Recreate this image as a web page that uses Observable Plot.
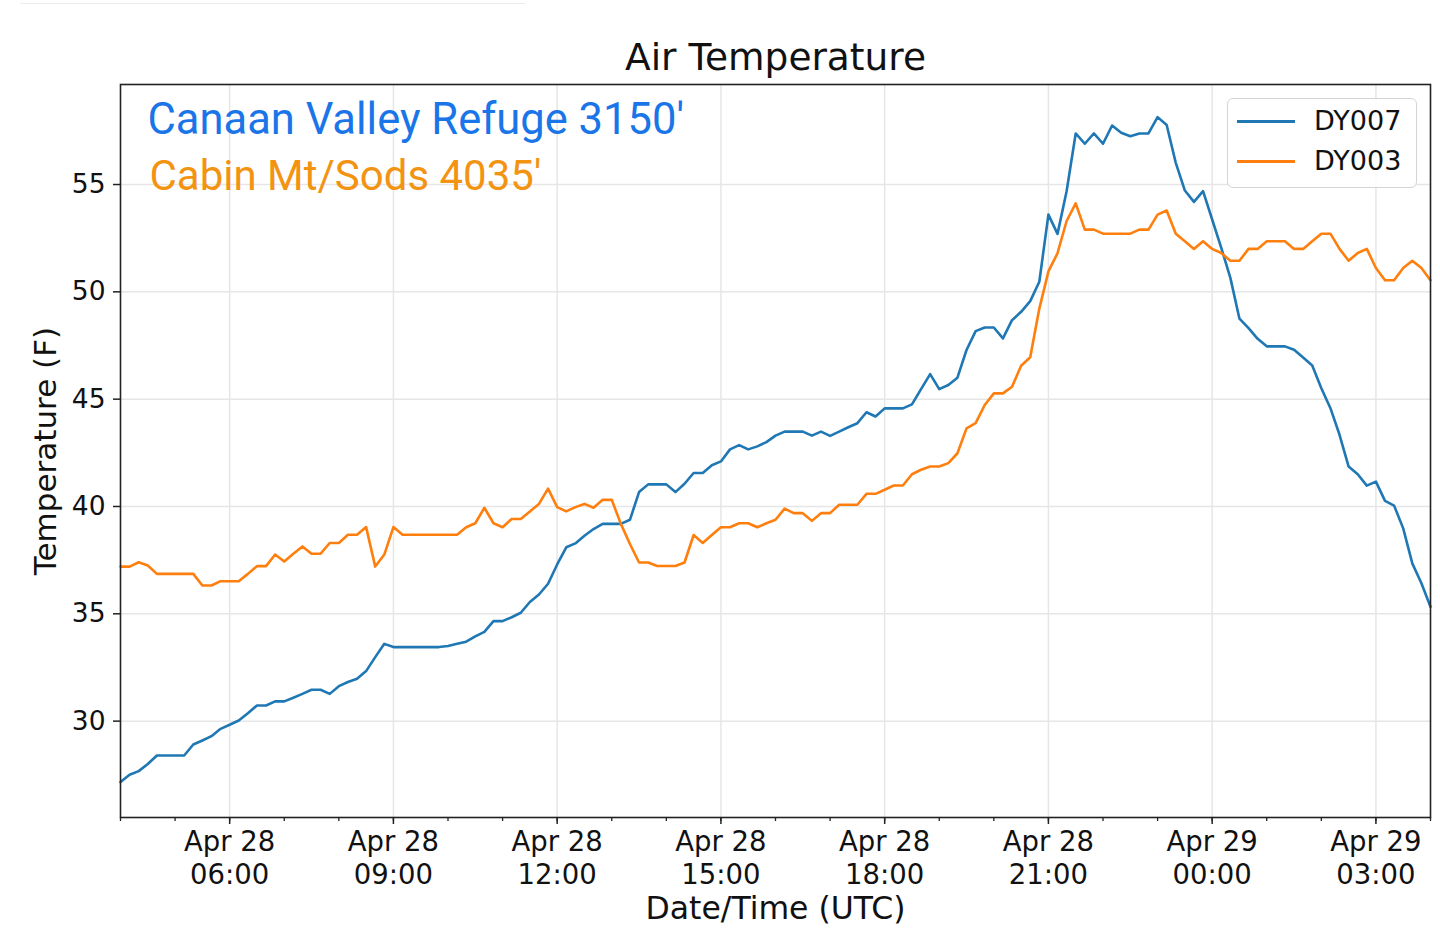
<!DOCTYPE html>
<html>
<head>
<meta charset="utf-8">
<script src="https://cdn.jsdelivr.net/npm/d3@7"></script>
<script src="https://cdn.jsdelivr.net/npm/@observablehq/plot@0.6"></script>
<style>
  html, body { margin: 0; padding: 0; background: #fff; }
  #wrap { position: relative; width: 1440px; height: 940px; overflow: hidden; }
  #topline { position: absolute; left: 20px; top: 3px; width: 505px; height: 1px; background: #ececec; }
  #legend { position: absolute; left: 1227px; top: 98px; width: 188px; height: 88px;
            border: 1.5px solid #d4d4d4; border-radius: 6px; background: rgba(255,255,255,0.85);
            font-family: "DejaVu Sans", sans-serif; font-size: 27px; color: #111; }
  .row { position: absolute; left: 0; height: 30px; width: 188px; }
  .sw { position: absolute; left: 9px; top: 14px; width: 58px; height: 2.6px; }
  .lab { position: absolute; left: 86px; top: 0px; line-height: 30px; }
</style>
</head>
<body>
<div id="wrap">
  <div id="topline"></div>
  <div id="chart"></div>
  <div id="legend"></div>
</div>
<script>
// ---- data ----
const seriesNames = ["DY007", "DY003"];
const seriesColors = ["#1f77b4", "#ff7f0e"];
const startTime = "2019-04-28T04:00:00Z";
const stepMinutes = 10;
const domainEnd = "2019-04-29T04:00:00Z";

const dy007 = [
  27.16, 27.5, 27.67, 28.0, 28.4, 28.4, 28.4, 28.4, 28.91, 29.1,
  29.3, 29.64, 29.83, 30.03, 30.37, 30.73, 30.73, 30.92, 30.92, 31.09,
  31.27, 31.46, 31.46, 31.27, 31.63, 31.82, 31.97, 32.33, 32.98, 33.6,
  33.45, 33.45, 33.45, 33.45, 33.45, 33.45, 33.5, 33.6, 33.7, 33.95,
  34.16, 34.66, 34.66, 34.84, 35.05, 35.55, 35.9, 36.4, 37.3, 38.1,
  38.28, 38.64, 38.95, 39.19, 39.19, 39.19, 39.38, 40.67, 41.03, 41.03,
  41.03, 40.67, 41.06, 41.56, 41.56, 41.92, 42.1, 42.66, 42.86, 42.66,
  42.8, 43.0, 43.3, 43.49, 43.49, 43.49, 43.3, 43.49, 43.29, 43.49,
  43.69, 43.88, 44.39, 44.19, 44.57, 44.57, 44.57, 44.76, 45.47, 46.17,
  45.47, 45.66, 46.0, 47.29, 48.17, 48.34, 48.34, 47.83, 48.68, 49.07,
  49.57, 50.47, 53.6, 52.7, 54.69, 57.38, 56.9, 57.38, 56.9, 57.75,
  57.41, 57.25, 57.38, 57.38, 58.14, 57.77, 56.01, 54.72, 54.19, 54.69,
  53.37, 52.05, 50.65, 48.75, 48.31, 47.81, 47.46, 47.46, 47.46, 47.3,
  46.94, 46.57, 45.51, 44.58, 43.34, 41.86, 41.5, 40.97, 41.16, 40.26,
  40.04, 38.98, 37.35, 36.42, 35.33
];
const dy003 = [
  37.2, 37.2, 37.4, 37.25, 36.86, 36.86, 36.86, 36.86, 36.86, 36.32,
  36.32, 36.52, 36.52, 36.52, 36.86, 37.22, 37.22, 37.76, 37.44, 37.8,
  38.14, 37.8, 37.8, 38.3, 38.3, 38.68, 38.68, 39.04, 37.2, 37.76,
  39.04, 38.68, 38.68, 38.68, 38.68, 38.68, 38.68, 38.68, 39.03, 39.22,
  39.94, 39.22, 39.03, 39.42, 39.42, 39.77, 40.12, 40.83, 39.97, 39.77,
  39.97, 40.12, 39.94, 40.31, 40.31, 39.19, 38.25, 37.39, 37.39, 37.23,
  37.23, 37.23, 37.39, 38.67, 38.3, 38.67, 39.03, 39.03, 39.22, 39.22,
  39.03, 39.22, 39.38, 39.9, 39.69, 39.69, 39.33, 39.69, 39.69, 40.08,
  40.08, 40.08, 40.59, 40.59, 40.78, 40.98, 40.98, 41.5, 41.71, 41.86,
  41.86, 42.02, 42.48, 43.64, 43.88, 44.73, 45.27, 45.27, 45.58, 46.56,
  46.95, 49.22, 50.95, 51.8, 53.3, 54.12, 52.9, 52.9, 52.71, 52.71,
  52.71, 52.71, 52.9, 52.9, 53.6, 53.79, 52.71, 52.36, 52.0, 52.36,
  52.0, 51.81, 51.45, 51.45, 52.0, 52.0, 52.36, 52.36, 52.36, 52.0,
  52.0, 52.36, 52.71, 52.71, 52.0, 51.45, 51.81, 52.0, 51.11, 50.54,
  50.54, 51.11, 51.45, 51.11, 50.54
];
const yTicks = [30, 35, 40, 45, 50, 55];
const yDomain = [25.51, 59.66];
const titleText = ["Air Temperature"];
const xLabel = ["Date/Time (UTC)"];
const yLabel = ["Temperature (F)"];
const note1 = ["Canaan Valley Refuge 3150'"];
const note2 = ["Cabin Mt/Sods 4035'"];
const note1Color = "#1a75e8";
const note2Color = "#f39312";

// ---- build table ----
const t0 = new Date(startTime);
const tEnd = new Date(domainEnd);
const timeAt = i => new Date(t0.getTime() + i * stepMinutes * 60000);
const rows = [];
dy007.forEach((v, i) => rows.push({series: seriesNames[0], time: timeAt(i), value: v}));
dy003.forEach((v, i) => rows.push({series: seriesNames[1], time: timeAt(i), value: v}));

const majorTicks = d3.utcHour.every(3).range(t0, new Date(tEnd.getTime() + 1));
const minorTicks = d3.utcHour.every(1).range(t0, new Date(tEnd.getTime() + 1));
const fmtDay = d3.utcFormat("%b %d");
const fmtHour = d3.utcFormat("%H:%M");

const chart = Plot.plot({
  width: 1440,
  height: 940,
  marginLeft: 120,
  marginRight: 10,
  marginTop: 84,
  marginBottom: 123,
  style: {fontFamily: "'DejaVu Sans', sans-serif", background: "white", color: "#111", overflow: "visible"},
  x: {type: "utc", domain: [t0, tEnd]},
  y: {domain: yDomain},
  color: {domain: seriesNames, range: seriesColors},
  marks: [
    Plot.gridX(majorTicks, {stroke: "#e6e6e6", strokeOpacity: 1, strokeWidth: 1.5}),
    Plot.gridY(yTicks, {stroke: "#e6e6e6", strokeOpacity: 1, strokeWidth: 1.5}),
    Plot.lineY(rows, {x: "time", y: "value", z: "series", stroke: "series", strokeWidth: 2.6, strokeLinejoin: "round"}),
    Plot.frame({stroke: "#222", strokeWidth: 1.6}),
    Plot.axisX(minorTicks, {tickSize: 4, tickFormat: () => "", stroke: "#222", strokeWidth: 1.3, label: null}),
    Plot.axisX(majorTicks, {tickSize: 7, tickPadding: 4, stroke: "#222", strokeWidth: 1.5,
      tickFormat: d => fmtDay(d) + "\n" + fmtHour(d), fontSize: 27.5, lineHeight: 1.17, fill: "#111", label: null}),
    Plot.axisY(yTicks, {tickSize: 7, tickPadding: 8, stroke: "#222", strokeWidth: 1.5, fontSize: 26.5, fill: "#111", label: null}),
    Plot.text(titleText, {text: d => d, frameAnchor: "top", lineAnchor: "bottom", dy: -15, fontSize: 37.5, fill: "#111"}),
    Plot.text(xLabel, {text: d => d, frameAnchor: "bottom", lineAnchor: "bottom", dy: 101, fontSize: 31.5, fill: "#111"}),
    Plot.text(yLabel, {text: d => d, frameAnchor: "left", textAnchor: "middle", rotate: -90, dx: -74, fontSize: 31, fill: "#111"}),
    Plot.text(note1, {text: d => d, frameAnchor: "top-left", textAnchor: "start", lineAnchor: "bottom",
      dx: 27, dy: 49, fontSize: 43.5, fontFamily: "Roboto", fill: note1Color}),
    Plot.text(note2, {text: d => d, frameAnchor: "top-left", textAnchor: "start", lineAnchor: "bottom",
      dx: 29, dy: 105, fontSize: 42, fontFamily: "Roboto", fill: note2Color})
  ]
});
document.getElementById("chart").appendChild(chart);

// legend
const legend = document.getElementById("legend");
seriesNames.forEach((name, k) => {
  const row = document.createElement("div");
  row.className = "row";
  row.style.top = (7 + k * 40) + "px";
  const sw = document.createElement("div");
  sw.className = "sw";
  sw.style.background = seriesColors[k];
  const lab = document.createElement("div");
  lab.className = "lab";
  lab.textContent = name;
  row.appendChild(sw);
  row.appendChild(lab);
  legend.appendChild(row);
});
</script>
</body>
</html>
